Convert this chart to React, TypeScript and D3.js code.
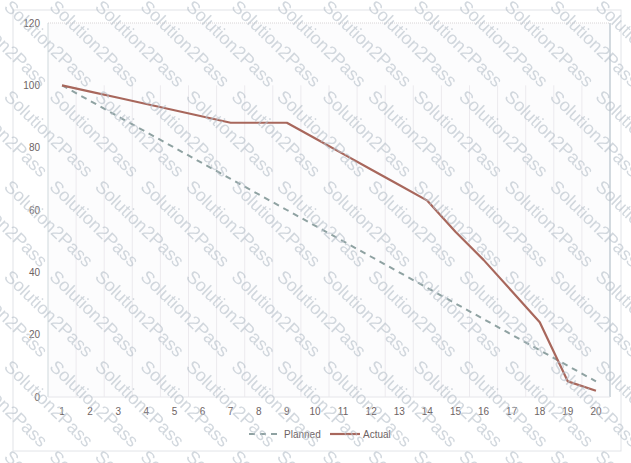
import React from "react";
import * as d3 from "d3";

const categories = ["1","2","3","4","5","6","7","8","9","10","11","12","13","14","15","16","17","18","19","20"];
const planned = [100,95,90,85,80,75,70,65,60,55,50,45,40,35,30,25,20,15,10,5];
const actual = [100,98,96,94,92,90,88,88,88,83,78,73,68,63,53,44,34,24,5,2];
const yTicks = [0,20,40,60,80,100,120];
const seriesNames = ["Planned","Actual"];
const watermark = "Solution2Pass";

const W = 631, H = 463;
const plot = { left: 48, right: 610, top: 23, bottom: 397 };

export default function App() {
  const x = d3.scaleBand<string>().domain(categories).range([plot.left, plot.right]);
  const y = d3.scaleLinear().domain([0, 120]).range([plot.bottom, plot.top]);
  const cx = (c: string) => (x(c) as number) + x.bandwidth() / 2;
  const line = d3.line<number>().x((_, i) => cx(categories[i])).y(d => y(d));

  const wm: { x: number; y: number }[] = [];
  for (let k = -3; k <= 5; k++) {
    for (let i = -4; i <= 14; i++) {
      wm.push({ x: 3 + 45.5 * i, y: 8 + 90 * k });
    }
  }
  const textColor = "#6e6363";
  const font = "'Liberation Sans', Arial, sans-serif";

  return (
    <svg width={W} height={H} style={{ position: "absolute", left: 0, top: 0 }}>
      <rect x={0} y={0} width={W} height={H} fill="#fff" />
      <rect x={13} y={10} width={608} height={441} fill="none" stroke="#e2e4e8" />
      <rect x={plot.left} y={plot.top} width={plot.right - plot.left} height={plot.bottom - plot.top} fill="#fcfcfd" />
      {categories.map((c, i) => i > 0 && (
        <line key={c} x1={x(c)} x2={x(c)} y1={y(100)} y2={plot.bottom} stroke="#eceaee" strokeWidth={1} />
      ))}
      <line x1={plot.left} x2={plot.right} y1={plot.top} y2={plot.top} stroke="#d8d4d6" strokeDasharray="1 1" />
      <line x1={plot.left} x2={plot.left} y1={plot.top} y2={plot.bottom} stroke="#cfd8dc" />
      <line x1={plot.right} x2={plot.right} y1={plot.top} y2={plot.bottom} stroke="#c4ced4" strokeWidth={1.5} />
      <line x1={plot.left} x2={plot.right} y1={plot.bottom} y2={plot.bottom} stroke="#e6e6ea" />
      {yTicks.map(t => (
        <text key={t} x={40} y={y(t)} dy="0.35em" textAnchor="end" fontSize={10} fill={textColor} fontFamily={font}>{t}</text>
      ))}
      {categories.map(c => (
        <text key={c} x={cx(c)} y={411} dy="0.35em" textAnchor="middle" fontSize={10} fill={textColor} fontFamily={font}>{c}</text>
      ))}
      <path d={line(planned) ?? ""} fill="none" stroke="#8fa2a2" strokeWidth={2} strokeDasharray="6 5" />
      <path d={line(actual) ?? ""} fill="none" stroke="#a8675c" strokeWidth={2.2} strokeLinejoin="round" />
      <g fontFamily={font} fontSize={10} fill={textColor}>
        <line x1={249} x2={281} y1={434} y2={434} stroke="#8fa2a2" strokeWidth={2} strokeDasharray="6 5" />
        <text x={284} y={434} dy="0.35em">{seriesNames[0]}</text>
        <line x1={330} x2={360} y1={434} y2={434} stroke="#a8675c" strokeWidth={2.2} />
        <text x={363} y={434} dy="0.35em">{seriesNames[1]}</text>
      </g>
      <g fontFamily={font} fontSize={18} fill="#b4bec8" opacity={0.6}>
        {wm.filter(p => p.x > -95 && p.x < W + 5 && p.y > -95 && p.y < H + 10).map((p, i) => (
          <text key={i} x={0} y={0} transform={`translate(${p.x},${p.y}) rotate(44)`}>{watermark}</text>
        ))}
      </g>
    </svg>
  );
}
